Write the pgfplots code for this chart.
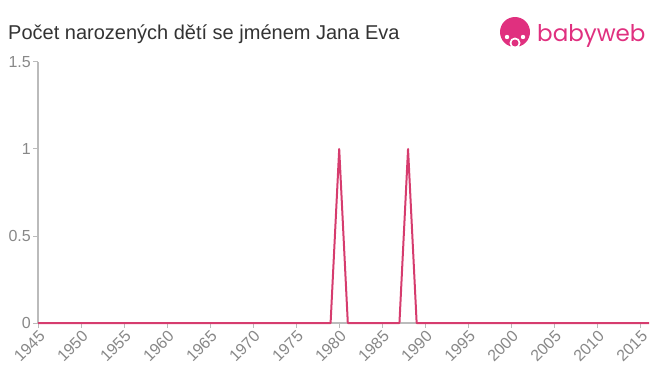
\documentclass[border=0pt]{standalone}
\usepackage{pgfplots}
\pgfplotsset{compat=1.18}
\usepackage{fontspec}
\setmainfont{Liberation Sans}
\newfontfamily\logofont{Poppins}
\definecolor{linec}{HTML}{D63C6E}
\definecolor{axisc}{HTML}{BBBBBB}
\definecolor{tickc}{HTML}{888888}
\definecolor{titlec}{HTML}{333333}
\definecolor{logoc}{HTML}{E0307F}
\begin{document}
\begin{tikzpicture}[x=1bp,y=1bp]
\path[use as bounding box] (0,0) rectangle (660,375);
\node[anchor=base west, text=titlec, font=\fontsize{20bp}{24bp}\selectfont, inner sep=0] at (8,336) {Počet narozených dětí se jménem Jana Eva};
% logo
\fill[logoc] (515,343) circle (15);
\fill[white] (515,332) circle (5.5);
\fill[logoc] (515,332) circle (3.5);
\fill[white] (507,338) circle (2.2);
\fill[white] (523,338) circle (2.2);
\node[anchor=base west, text=logoc, font=\logofont\fontsize{23bp}{26bp}\selectfont, inner sep=0] at (537,334) {babyweb};
\begin{axis}[
  at={(38bp,52bp)}, anchor=south west,
  scale only axis, width=611bp, height=261bp,
  xmin=1945, xmax=2016, ymin=0, ymax=1.5,
  axis x line*=bottom, axis y line*=left,
  axis line style={axisc, line width=1.2bp},
  x axis line style={-}, y axis line style={-},
  xtick={1945,1950,...,2015},
  ytick={0,0.5,1,1.5},
  yticklabels={0,0.5,1,1.5},
  xticklabel style={rotate=45, anchor=north east, text=tickc, font=\fontsize{16bp}{18bp}\selectfont, inner sep=1bp},
  yticklabel style={text=tickc, font=\fontsize{16bp}{18bp}\selectfont, inner sep=2bp},
  xticklabel={\pgfmathprintnumber[1000 sep={},fixed]{\tick}},
  /pgf/number format/assume math mode=true,
  tick style={axisc, line width=1bp},
  tick align=outside, major tick length=5bp,
  clip=false,
]
\addplot[linec, line width=2bp, line join=round] coordinates {
(1945,0)(1946,0)(1947,0)(1948,0)(1949,0)(1950,0)(1951,0)(1952,0)(1953,0)(1954,0)
(1955,0)(1956,0)(1957,0)(1958,0)(1959,0)(1960,0)(1961,0)(1962,0)(1963,0)(1964,0)
(1965,0)(1966,0)(1967,0)(1968,0)(1969,0)(1970,0)(1971,0)(1972,0)(1973,0)(1974,0)
(1975,0)(1976,0)(1977,0)(1978,0)(1979,0)(1980,1)(1981,0)(1982,0)(1983,0)(1984,0)
(1985,0)(1986,0)(1987,0)(1988,1)(1989,0)(1990,0)(1991,0)(1992,0)(1993,0)(1994,0)
(1995,0)(1996,0)(1997,0)(1998,0)(1999,0)(2000,0)(2001,0)(2002,0)(2003,0)(2004,0)
(2005,0)(2006,0)(2007,0)(2008,0)(2009,0)(2010,0)(2011,0)(2012,0)(2013,0)(2014,0)
(2015,0)(2016,0)
};
\end{axis}
\end{tikzpicture}
\end{document}
